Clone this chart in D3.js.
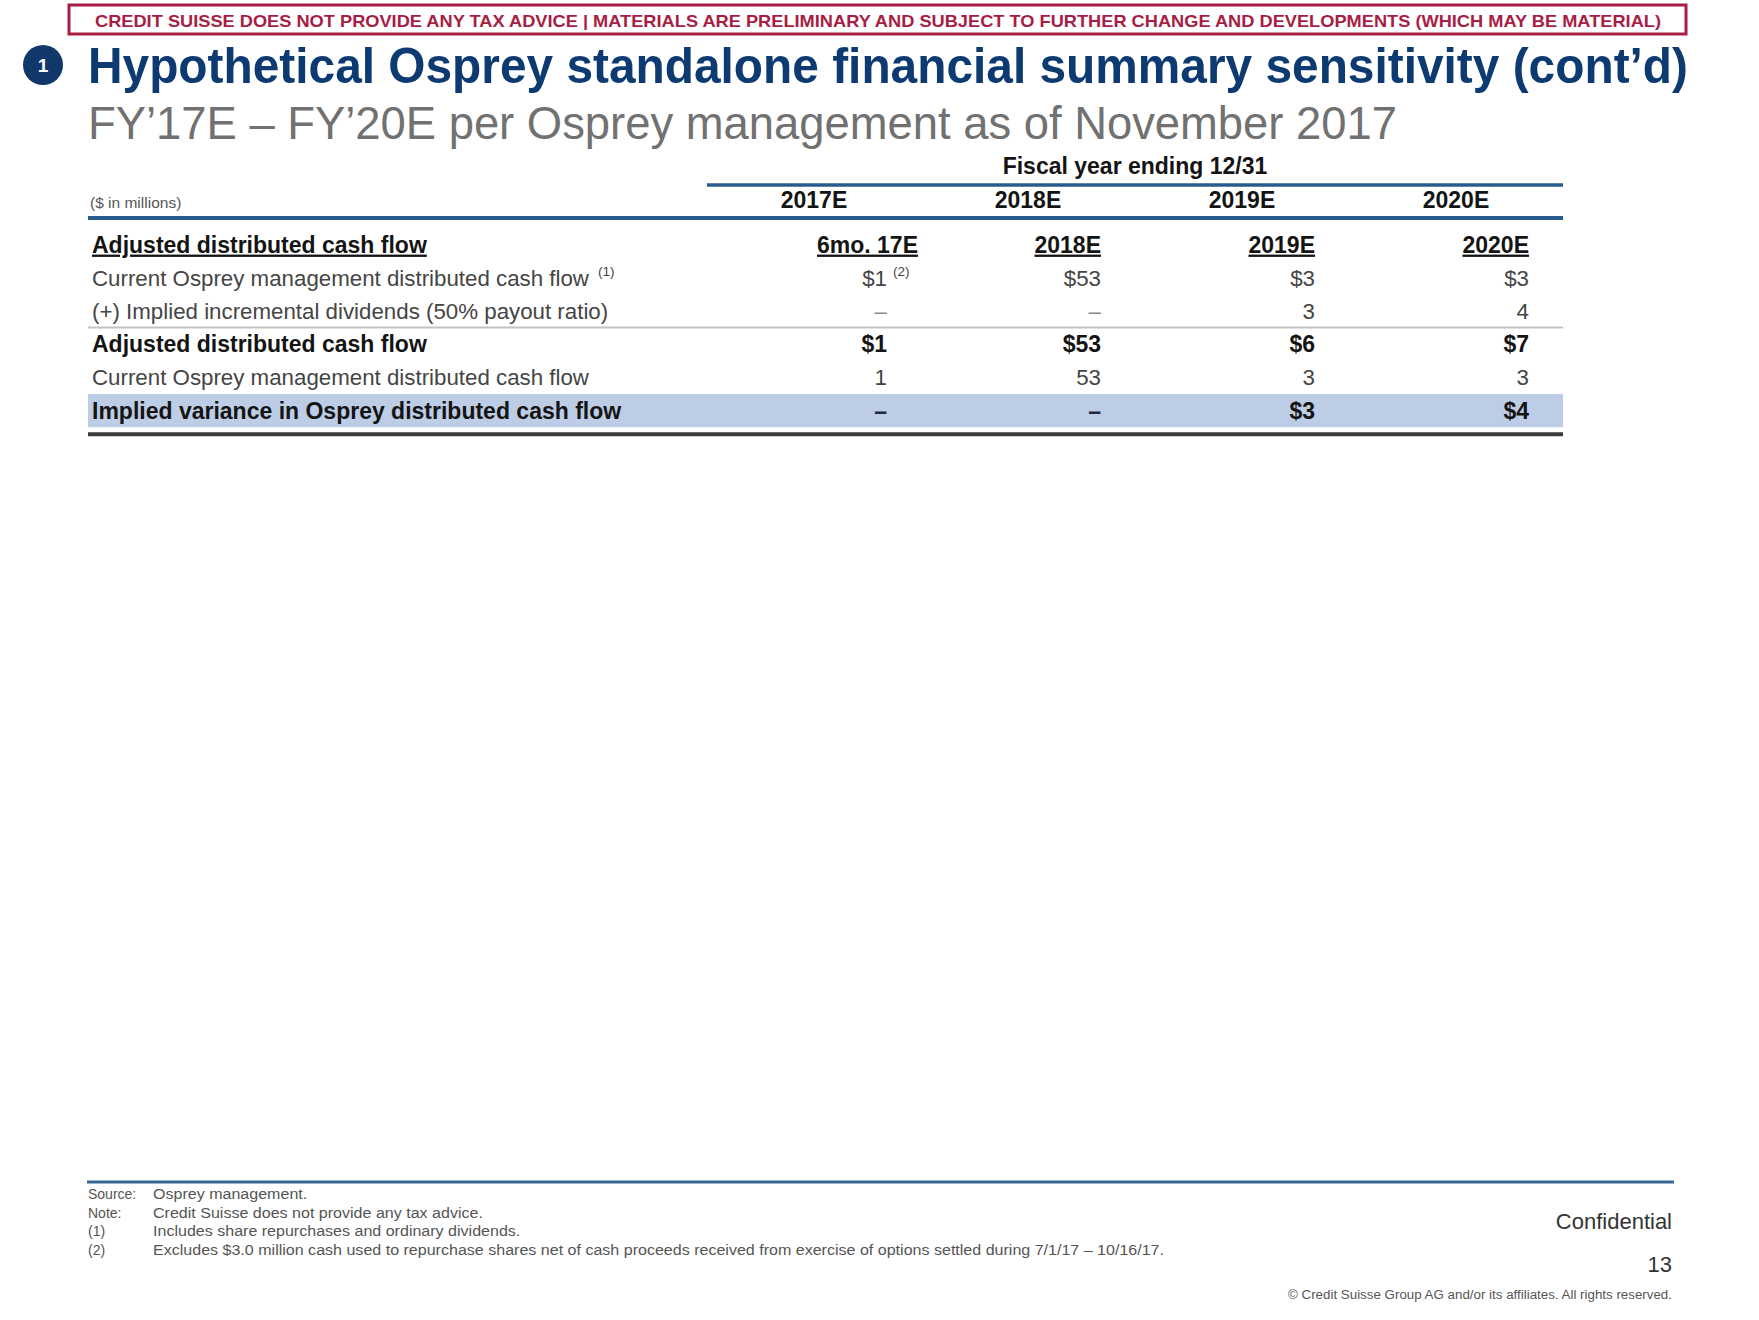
<!DOCTYPE html>
<html><head><meta charset="utf-8">
<script src="https://cdn.jsdelivr.net/npm/d3@7"></script>
<style>
html,body{margin:0;padding:0;background:#fff;}
svg{display:block;font-family:"Liberation Sans",Arial,Helvetica,sans-serif;}
</style>
</head><body>
<svg id="c" width="1759" height="1320"></svg>
<script>
// ---------------- DATA ----------------
const bannerText = "CREDIT SUISSE DOES NOT PROVIDE ANY TAX ADVICE | MATERIALS ARE PRELIMINARY AND SUBJECT TO FURTHER CHANGE AND DEVELOPMENTS (WHICH MAY BE MATERIAL)";
const titleText = "Hypothetical Osprey standalone financial summary sensitivity (cont\u2019d)";
const subtitleText = "FY\u201917E \u2013 FY\u201920E per Osprey management as of November 2017";
const unitsLabel = "($ in millions)";
const groupLabel = "Fiscal year ending 12/31";
const years = ["2017E", "2018E", "2019E", "2020E"];
const periods = ["6mo. 17E", "2018E", "2019E", "2020E"];
const rowLabels = [
  "Adjusted distributed cash flow",
  "Current Osprey management distributed cash flow",
  "(+) Implied incremental dividends (50% payout ratio)",
  "Adjusted distributed cash flow",
  "Current Osprey management distributed cash flow",
  "Implied variance in Osprey distributed cash flow"
];
const currentDCF = [1, 53, 3, 3];
const incrementalDividends = [null, null, 3, 4];
const adjustedDCF = [1, 53, 6, 7];
const currentDCFCheck = [1, 53, 3, 3];
const impliedVariance = [null, null, 3, 4];
const footLabels = ["Source:", "Note:", "(1)", "(2)"];
const footTexts = [
  "Osprey management.",
  "Credit Suisse does not provide any tax advice.",
  "Includes share repurchases and ordinary dividends.",
  "Excludes $3.0 million cash used to repurchase shares net of cash proceeds received from exercise of options settled during 7/1/17 \u2013 10/16/17."
];
const confidentialText = "Confidential";
const pageNumber = "13";
const copyrightText = "\u00A9 Credit Suisse Group AG and/or its affiliates. All rights reserved.";

// ---------------- LAYOUT / STYLE ----------------
const C = {
  red: "#a81d44", navy: "#0d3a71", circle: "#12376a", blue: "#275c8c",
  band: "#bccde5", dark: "#3b3b3b", sep: "#c4c4c4", txt: "#454545", bold: "#141414"
};
const tableLeft = 88, tableRight = 1563, colStart = 707;
const rowSeries = [null, currentDCF, incrementalDividends, adjustedDCF, currentDCFCheck, impliedVariance];
const rowBold = [true, false, false, true, false, true];
const rowDollar = [false, true, false, true, false, true];
const valueOffset = 73;
const headerShift = [31, 0, 0, 0];
const regSize = 22.3, boldSize = 23;

const svg = d3.select("#c");

// fit a text to a target width, keeping its natural width inside the page
function fitText(sel, target, maxNatural) {
  const fs = +sel.attr("font-size");
  const nat = sel.node().getComputedTextLength();
  if (nat > maxNatural) sel.attr("font-size", fs * maxNatural / nat);
  sel.attr("textLength", target).attr("lengthAdjust", "spacingAndGlyphs");
}

// banner
svg.append("rect").attr("x", 69).attr("y", 5).attr("width", 1617).attr("height", 29)
  .attr("fill", "#fff").attr("stroke", C.red).attr("stroke-width", 3);
const ban = svg.append("text").attr("x", 878).attr("y", 27).attr("text-anchor", "middle")
  .attr("font-weight", "bold").attr("font-size", 17).attr("fill", C.red).text(bannerText);
fitText(ban, 1566, 1600);

// numbered circle + title
svg.append("circle").attr("cx", 43).attr("cy", 65).attr("r", 20).attr("fill", C.circle);
svg.append("text").attr("x", 43).attr("y", 72).attr("text-anchor", "middle")
  .attr("font-weight", "bold").attr("font-size", 19).attr("fill", "#fff").text("1");
const ttl = svg.append("text").attr("x", 88).attr("y", 83).attr("font-weight", "bold").attr("font-size", 50)
  .attr("fill", C.navy).text(titleText);
fitText(ttl, 1600, 1650);
const sub = svg.append("text").attr("x", 88).attr("y", 139).attr("font-size", 47).attr("fill", "#717171")
  .text(subtitleText);
fitText(sub, 1309, 1400);

// scales
const x = d3.scaleBand().domain(years).range([colStart, tableRight]);
const cx = d => x(d) + x.bandwidth() / 2;
const y = d3.scaleBand().domain(d3.range(rowLabels.length)).range([228, 427.2]);
const base = i => y(i) + y.bandwidth() / 2 + 8;

// header
svg.append("text").attr("x", (colStart + tableRight) / 2).attr("y", 174).attr("text-anchor", "middle")
  .attr("font-weight", "bold").attr("font-size", boldSize).attr("fill", C.bold).text(groupLabel);
svg.append("line").attr("x1", colStart).attr("x2", tableRight).attr("y1", 185).attr("y2", 185)
  .attr("stroke", C.blue).attr("stroke-width", 3.5);
svg.append("text").attr("x", 90).attr("y", 208).attr("font-size", 15.5).attr("fill", "#555").text(unitsLabel);
svg.selectAll("text.yr").data(years).join("text").attr("class", "yr")
  .attr("x", d => cx(d)).attr("y", 208).attr("text-anchor", "middle")
  .attr("font-weight", "bold").attr("font-size", boldSize).attr("fill", C.bold).text(d => d);
svg.append("line").attr("x1", tableLeft).attr("x2", tableRight).attr("y1", 218).attr("y2", 218)
  .attr("stroke", C.blue).attr("stroke-width", 4);

// highlight band, separators
svg.append("rect").attr("x", tableLeft).attr("width", tableRight - tableLeft)
  .attr("y", y(5)).attr("height", y.bandwidth()).attr("fill", C.band);
svg.append("line").attr("x1", tableLeft).attr("x2", tableRight).attr("y1", y(3)).attr("y2", y(3))
  .attr("stroke", C.sep).attr("stroke-width", 2);
svg.append("line").attr("x1", tableLeft).attr("x2", tableRight).attr("y1", y(5) + y.bandwidth() + 7)
  .attr("y2", y(5) + y.bandwidth() + 7).attr("stroke", C.dark).attr("stroke-width", 4);

// row labels
const lab = svg.selectAll("text.lab").data(rowLabels).join("text").attr("class", "lab")
  .attr("x", 92).attr("y", (d, i) => base(i))
  .attr("font-size", (d, i) => rowBold[i] ? boldSize : regSize)
  .attr("font-weight", (d, i) => rowBold[i] ? "bold" : "normal")
  .attr("fill", (d, i) => rowBold[i] ? C.bold : C.txt)
  .style("text-decoration", (d, i) => i === 0 ? "underline" : null)
  .text(d => d);
lab.filter((d, i) => i === 1).append("tspan").attr("dx", 9).attr("dy", -10)
  .attr("font-size", 13.5).text("(1)");

// period headers (row 0)
svg.selectAll("text.per").data(periods).join("text").attr("class", "per")
  .attr("x", (d, i) => cx(years[i]) + valueOffset + headerShift[i]).attr("y", base(0))
  .attr("text-anchor", "end").attr("font-weight", "bold").attr("font-size", boldSize)
  .attr("fill", C.bold).style("text-decoration", "underline").text(d => d);

// values
rowSeries.forEach((series, r) => {
  if (!series) return;
  svg.selectAll("text.v" + r).data(series).join("text").attr("class", "v" + r)
    .attr("x", (d, i) => cx(years[i]) + valueOffset).attr("y", base(r))
    .attr("text-anchor", "end")
    .attr("font-size", rowBold[r] ? boldSize : regSize)
    .attr("font-weight", rowBold[r] ? "bold" : "normal")
    .attr("fill", d => d === null ? (rowBold[r] ? "#1c2a48" : "#8a8a8a") : (rowBold[r] ? C.bold : C.txt))
    .text(d => d === null ? "\u2013" : (rowDollar[r] ? "$" + d : String(d)));
});
// footnote (2) marker on the 2017 current DCF value
svg.append("text").attr("x", cx(years[0]) + valueOffset + 6).attr("y", base(1) - 10)
  .attr("font-size", 13.5).attr("fill", C.txt).text("(2)");

// footer
svg.append("line").attr("x1", 87).attr("x2", 1674).attr("y1", 1182).attr("y2", 1182)
  .attr("stroke", "#3a6792").attr("stroke-width", 3);
const fy = d3.scalePoint().domain(d3.range(footLabels.length)).range([1199, 1255]);
svg.selectAll("text.fl").data(footLabels).join("text").attr("class", "fl")
  .attr("x", 88).attr("y", (d, i) => fy(i)).attr("font-size", 14).attr("fill", "#555").text(d => d);
const ft = svg.selectAll("text.ft").data(footTexts).join("text").attr("class", "ft")
  .attr("x", 153).attr("y", (d, i) => fy(i)).attr("font-size", 14).attr("fill", "#555").text(d => d);
const nat = ft.nodes().map(n => n.getComputedTextLength());
const stretch = (1164 - 153) / nat[nat.length - 1];
ft.attr("textLength", (d, i) => nat[i] * stretch).attr("lengthAdjust", "spacingAndGlyphs");

svg.append("text").attr("x", 1672).attr("y", 1229).attr("text-anchor", "end")
  .attr("font-size", 22).attr("fill", "#333").text(confidentialText);
svg.append("text").attr("x", 1672).attr("y", 1272).attr("text-anchor", "end")
  .attr("font-size", 22).attr("fill", "#333").text(pageNumber);
svg.append("text").attr("x", 1672).attr("y", 1299).attr("text-anchor", "end")
  .attr("font-size", 12).attr("fill", "#555").attr("textLength", 384)
  .attr("lengthAdjust", "spacingAndGlyphs").text(copyrightText);
</script>
</body></html>
